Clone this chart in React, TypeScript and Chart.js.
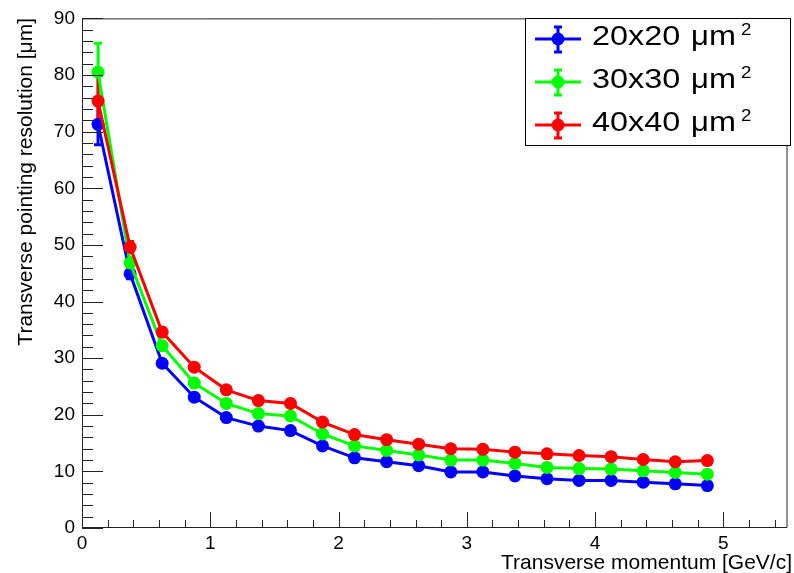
import { useEffect, useRef } from 'react';
import { Chart, registerables } from 'chart.js';

Chart.register(...registerables);

// ---- data ----
const momentum = [0.125, 0.375, 0.625, 0.875, 1.125, 1.375, 1.625, 1.875, 2.125, 2.375, 2.625, 2.875, 3.125, 3.375, 3.625, 3.875, 4.125, 4.375, 4.625, 4.875];
const res20 = [71.3, 44.9, 29.1, 23.1, 19.5, 18.0, 17.2, 14.5, 12.4, 11.7, 11.0, 9.9, 9.9, 9.2, 8.7, 8.4, 8.4, 8.1, 7.8, 7.5];
const err20 = [3.6, 0.9, 0.6, 0.5, 0.4, 0.4, 0.4, 0.3, 0.3, 0.3, 0.3, 0.3, 0.3, 0.3, 0.3, 0.3, 0.3, 0.3, 0.3, 0.3];
const res30 = [80.5, 46.8, 32.2, 25.6, 22.0, 20.2, 19.8, 16.6, 14.5, 13.7, 12.9, 12.0, 12.0, 11.4, 10.7, 10.5, 10.4, 10.1, 9.8, 9.5];
const err30 = [5.1, 1.0, 0.7, 0.5, 0.4, 0.4, 0.4, 0.3, 0.3, 0.3, 0.3, 0.3, 0.3, 0.3, 0.3, 0.3, 0.3, 0.3, 0.3, 0.3];
const res40 = [75.4, 49.6, 34.6, 28.4, 24.4, 22.5, 22.0, 18.7, 16.5, 15.6, 14.8, 14.0, 13.9, 13.4, 13.1, 12.8, 12.6, 12.1, 11.7, 11.9];
const err40 = [4.5, 1.0, 0.7, 0.6, 0.5, 0.4, 0.4, 0.4, 0.3, 0.3, 0.3, 0.3, 0.3, 0.3, 0.3, 0.3, 0.3, 0.3, 0.3, 0.3];
const seriesNames = ['20x20', '30x30', '40x40'];
const seriesColors = ['#0000ff', '#00ff00', '#ff0000'];
const xTitle = 'Transverse momentum [GeV/c]';
const yTitle = 'Transverse pointing resolution [\u03bcm]';

const seriesValues = [res20, res30, res40];
const seriesErrors = [err20, err30, err40];

const FONT = '"Liberation Sans", Arial, Helvetica, sans-serif';

const rootPlugin = {
  id: 'rootStyle',
  beforeDatasetsDraw(chart: any) {
    const ctx = chart.ctx;
    const xs = chart.scales.x;
    const ys = chart.scales.y;
    ctx.save();
    seriesValues.forEach((vals, i) => {
      ctx.strokeStyle = seriesColors[i];
      ctx.lineWidth = 3;
      vals.forEach((v, j) => {
        const e = seriesErrors[i][j];
        const px = xs.getPixelForValue(momentum[j]);
        const y1 = ys.getPixelForValue(v + e);
        const y2 = ys.getPixelForValue(v - e);
        ctx.beginPath();
        ctx.moveTo(px, y1);
        ctx.lineTo(px, y2);
        ctx.moveTo(px - 4, y1);
        ctx.lineTo(px + 4, y1);
        ctx.moveTo(px - 4, y2);
        ctx.lineTo(px + 4, y2);
        ctx.stroke();
      });
    });
    ctx.restore();
  },
  afterDatasetsDraw(chart: any) {
    const ctx = chart.ctx;
    const xs = chart.scales.x;
    const ys = chart.scales.y;
    const { left, right, top, bottom } = chart.chartArea;
    ctx.save();
    // frame
    ctx.strokeStyle = '#222';
    ctx.lineWidth = 1;
    ctx.beginPath();
    ctx.moveTo(left + 0.5, top + 0.5);
    ctx.lineTo(right - 0.5, top + 0.5);
    ctx.lineTo(right - 0.5, bottom - 0.5);
    ctx.lineTo(left + 0.5, bottom - 0.5);
    ctx.closePath();
    ctx.stroke();
    // x ticks
    ctx.beginPath();
    for (let k = 0; k <= 27; k++) {
      const v = k * 0.2;
      const px = Math.round(xs.getPixelForValue(v)) + 0.5;
      const len = k % 5 === 0 ? 16 : 8;
      ctx.moveTo(px, bottom);
      ctx.lineTo(px, bottom - len);
    }
    // y ticks
    for (let k = 0; k <= 45; k++) {
      const v = k * 2;
      const py = Math.round(ys.getPixelForValue(v)) + 0.5;
      const len = k % 5 === 0 ? 21 : 11;
      ctx.moveTo(left, py);
      ctx.lineTo(left + len, py);
    }
    ctx.stroke();

    // axis titles
    ctx.fillStyle = '#000';
    ctx.font = `21px ${FONT}`;
    ctx.textAlign = 'right';
    ctx.textBaseline = 'alphabetic';
    ctx.fillText(xTitle, 792, 569);
    ctx.save();
    ctx.translate(32, 18);
    ctx.rotate(-Math.PI / 2);
    ctx.fillText(yTitle, 0, 0);
    ctx.restore();

    // legend
    const bx = 525.5, by = 18.5, bw = 265, bh = 127;
    ctx.fillStyle = '#fff';
    ctx.fillRect(bx, by, bw, bh);
    ctx.strokeStyle = '#000';
    ctx.lineWidth = 1;
    ctx.strokeRect(bx, by, bw, bh);
    seriesNames.forEach((name, i) => {
      const cy = 39 + i * 43;
      const col = seriesColors[i];
      ctx.strokeStyle = col;
      ctx.fillStyle = col;
      ctx.lineWidth = 3;
      ctx.beginPath();
      ctx.moveTo(535, cy);
      ctx.lineTo(581, cy);
      ctx.moveTo(558, cy - 12);
      ctx.lineTo(558, cy + 13);
      ctx.moveTo(554, cy - 12);
      ctx.lineTo(562, cy - 12);
      ctx.moveTo(554, cy + 13);
      ctx.lineTo(562, cy + 13);
      ctx.stroke();
      ctx.beginPath();
      ctx.arc(558, cy, 6.5, 0, Math.PI * 2);
      ctx.fill();

      const base = 45 + i * 43;
      ctx.fillStyle = '#000';
      ctx.textAlign = 'left';
      ctx.font = `27px ${FONT}`;
      const drawScaled = (t: string, x: number, y: number, sx: number) => {
        ctx.save();
        ctx.translate(x, y);
        ctx.scale(sx, 1);
        ctx.fillText(t, 0, 0);
        ctx.restore();
      };
      drawScaled(name, 592, base, 1.2);
      drawScaled('\u03bc', 691, base, 1.15);
      drawScaled('m', 709, base, 1.2);
      ctx.font = `17px ${FONT}`;
      drawScaled('2', 741, base - 10, 1.1);
    });
    ctx.restore();
  },
};

export default function App() {
  const ref = useRef<HTMLCanvasElement | null>(null);
  useEffect(() => {
    if (!ref.current) return;
    const chart = new Chart(ref.current, {
      type: 'line',
      data: {
        datasets: seriesValues.map((vals, i) => ({
          label: seriesNames[i],
          data: vals.map((v, j) => ({ x: momentum[j], y: v })),
          borderColor: seriesColors[i],
          backgroundColor: seriesColors[i],
          borderWidth: 3,
          pointRadius: 6.5,
          pointHoverRadius: 6.5,
          pointBorderWidth: 0,
          pointBackgroundColor: seriesColors[i],
          tension: 0,
          fill: false,
          order: 2 - i,
        })),
      },
      plugins: [rootPlugin],
      options: {
        responsive: false,
        animation: false,
        layout: { padding: { top: 18, right: 3, left: 0, bottom: 0 } },
        plugins: { legend: { display: false }, tooltip: { enabled: false }, title: { display: false } },
        scales: {
          x: {
            type: 'linear',
            min: 0,
            max: 5.5,
            grid: { display: false, drawTicks: false },
            border: { display: false },
            ticks: {
              stepSize: 1,
              includeBounds: false,
              maxRotation: 0,
              padding: 4,
              color: '#000',
              font: { family: FONT, size: 19 },
            },
            afterFit: (s: any) => { s.height = 45; },
          },
          y: {
            type: 'linear',
            min: 0,
            max: 90,
            grid: { display: false, drawTicks: false },
            border: { display: false },
            ticks: {
              stepSize: 10,
              padding: 7,
              color: '#000',
              font: { family: FONT, size: 19 },
            },
            afterFit: (s: any) => { s.width = 82; },
          },
        },
      },
    });
    return () => chart.destroy();
  }, []);
  return (
    <div style={{ position: 'fixed', left: 0, top: 0, width: 794, height: 573, background: '#fff' }}>
      <canvas ref={ref} width={794} height={573} />
    </div>
  );
}
